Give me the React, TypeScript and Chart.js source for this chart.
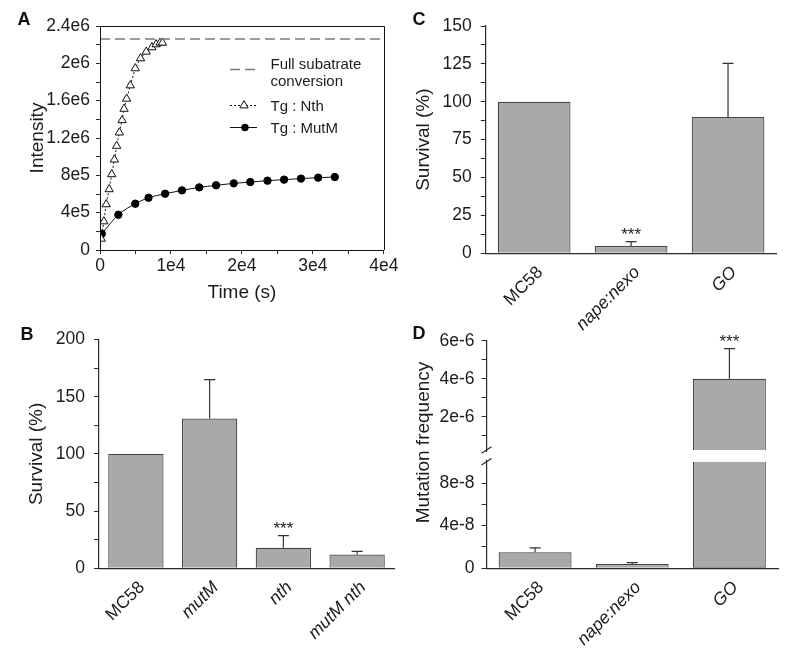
import React, { useEffect, useRef } from 'react';
import { Chart, registerables } from 'chart.js';

Chart.register(...registerables);

const FONT = "'Liberation Sans', Arial, Helvetica, sans-serif";
const TEXT = '#1c1c1c';
const AXIS = '#2a2a2a';
const BAR_FILL = '#a9a9a9';
const BAR_EDGE = '#444444';
const ERR = '#333333';

// ---------- Panel A: kinetics ----------
const NTH_TIME = [170, 540, 870, 1290, 1650, 2030, 2350, 2730, 3110, 3390, 3750, 4270, 4970, 5710, 6510, 7310, 7910, 8470, 8800];
const NTH_INTENSITY = [1.2e5, 3.06e5, 4.89e5, 6.5e5, 8.11e5, 9.68e5, 1.115e6, 1.258e6, 1.39e6, 1.512e6, 1.62e6, 1.763e6, 1.946e6, 2.053e6, 2.124e6, 2.171e6, 2.203e6, 2.221e6, 2.221e6];
const MUTM_TIME = [250, 2590, 4970, 6840, 9170, 11550, 13980, 16360, 18840, 21170, 23600, 25940, 28320, 30740, 33080];
const MUTM_INTENSITY = [1.74e5, 3.78e5, 4.96e5, 5.6e5, 6.03e5, 6.39e5, 6.71e5, 6.93e5, 7.14e5, 7.28e5, 7.43e5, 7.54e5, 7.65e5, 7.75e5, 7.82e5];
const FULL_CONVERSION = 2.26e6;
const FULL_LABEL = ['Full subatrate', 'conversion'];
const NTH_LABEL = 'Tg : Nth';
const MUTM_LABEL = 'Tg : MutM';
const A_X_MIN = 0;
const A_X_MAX = 40000;
const A_X_STEP = 5000;
const A_X_MAJOR = 10000;
const A_Y_MIN = 0;
const A_Y_MAX = 2.4e6;
const A_Y_STEP = 2e5;
const A_Y_MAJOR = 4e5;

// ---------- Panel B ----------
const B_STRAINS = ['MC58', 'mutM', 'nth', 'mutM nth'];
const B_ITALIC = [false, true, true, true];
const B_SURVIVAL = [100, 131, 18, 12];
const B_ERROR = [0, 34, 10.5, 2.8];
const B_STARS = ['', '', '***', ''];
const B_Y_MAX = 200;
const B_Y_STEP = 25;
const B_Y_MAJOR = 50;

// ---------- Panel C ----------
const C_STRAINS = ['MC58', 'nape:nexo', 'GO'];
const C_ITALIC = [false, true, true];
const C_SURVIVAL = [100, 4.8, 90];
const C_ERROR = [0, 2.9, 35.4];
const C_STARS = ['', '***', ''];
const C_Y_MAX = 150;
const C_Y_STEP = 12.5;
const C_Y_MAJOR = 25;

// ---------- Panel D ----------
const D_STRAINS = ['MC58', 'nape:nexo', 'GO'];
const D_ITALIC = [false, true, true];
const D_MUTATION = [1.5e-8, 4.0e-9, 4.0e-6];
const D_ERROR = [4.1e-9, 1.3e-9, 1.58e-6];
const D_STARS = ['', '', '***'];
const D_LOW_MAX = 1e-7;
const D_LOW_STEP = 2e-8;
const D_LOW_MAJOR = 4e-8;
const D_HIGH_MIN = 2.5e-7;
const D_HIGH_MAX = 6e-6;
const D_HIGH_STEP = 1e-6;
const D_HIGH_MAJOR = 2e-6;

const sci = (v: number) => {
  if (Math.abs(v) < 1e-30) return '0';
  return Number(v.toPrecision(8)).toExponential().replace('+', '');
};
const isMajor = (v: number, major: number) => Math.abs(v / major - Math.round(v / major)) < 1e-6;
const plain = (v: number) => String(Math.round(v * 1000) / 1000);

function letterPlugin(letter: string, x: number, y: number) {
  return {
    id: 'panelLetter',
    afterDraw(chart: any) {
      const { ctx } = chart;
      ctx.save();
      ctx.font = `bold 18px ${FONT}`;
      ctx.fillStyle = '#111';
      ctx.textAlign = 'center';
      ctx.textBaseline = 'alphabetic';
      ctx.fillText(letter, x, y);
      ctx.restore();
    },
  };
}

function errorBarPlugin(values: number[], errors: number[], stars: string[], axisIds: string[]) {
  return {
    id: 'errorBars',
    afterDatasetsDraw(chart: any) {
      const { ctx } = chart;
      const xs = chart.scales.x;
      ctx.save();
      values.forEach((v, i) => {
        const ys = chart.scales[axisIds[i]];
        const cx = xs.getPixelForValue(i);
        const base = ys.getPixelForValue(v);
        const top = ys.getPixelForValue(v + errors[i]);
        if (errors[i] > 0) {
          ctx.strokeStyle = ERR;
          ctx.lineWidth = 1.2;
          ctx.setLineDash([]);
          ctx.beginPath();
          ctx.moveTo(cx, base);
          ctx.lineTo(cx, top);
          ctx.moveTo(cx - 5.5, top);
          ctx.lineTo(cx + 5.5, top);
          ctx.stroke();
        }
        if (stars[i]) {
          ctx.font = `17px ${FONT}`;
          ctx.fillStyle = TEXT;
          ctx.textAlign = 'center';
          ctx.textBaseline = 'alphabetic';
          ctx.fillText(stars[i], cx, top - 1.3);
        }
      });
      ctx.restore();
    },
  };
}

const framePlugin = {
  id: 'frame',
  afterDraw(chart: any) {
    const { ctx, chartArea } = chart;
    ctx.save();
    ctx.strokeStyle = '#111';
    ctx.lineWidth = 1;
    ctx.setLineDash([]);
    ctx.beginPath();
    ctx.moveTo(chartArea.left, Math.round(chartArea.top) + 0.5);
    ctx.lineTo(Math.round(chartArea.right) + 0.5, Math.round(chartArea.top) + 0.5);
    ctx.lineTo(Math.round(chartArea.right) + 0.5, chartArea.bottom);
    ctx.stroke();
    ctx.restore();
  },
};

const legendPluginA = {
  id: 'legendA',
  afterDraw(chart: any) {
    const { ctx } = chart;
    const [full, nth, mutm] = chart.data.datasets as any[];
    const x0 = 230;
    const x1 = 257;
    const tx = 270.5;
    ctx.save();
    ctx.font = `15px ${FONT}`;
    ctx.fillStyle = TEXT;
    ctx.textAlign = 'left';
    ctx.textBaseline = 'alphabetic';
    // full conversion
    ctx.strokeStyle = full.borderColor;
    ctx.lineWidth = full.borderWidth;
    ctx.setLineDash(full.borderDash);
    ctx.beginPath();
    ctx.moveTo(x0, 69.5);
    ctx.lineTo(x1, 69.5);
    ctx.stroke();
    ctx.fillText(FULL_LABEL[0], tx, 68.5);
    ctx.fillText(FULL_LABEL[1], tx, 86);
    // Nth
    const ny = 105.5;
    ctx.strokeStyle = nth.borderColor;
    ctx.lineWidth = nth.borderWidth;
    ctx.setLineDash(nth.borderDash);
    ctx.beginPath();
    ctx.moveTo(x0, ny);
    ctx.lineTo(x1, ny);
    ctx.stroke();
    ctx.setLineDash([]);
    const r = nth.pointRadius;
    const cx = 244;
    ctx.beginPath();
    let rad = 0;
    ctx.moveTo(cx + Math.sin(rad) * r, ny - Math.cos(rad) * r);
    rad += (2 * Math.PI) / 3;
    ctx.lineTo(cx + Math.sin(rad) * r, ny - Math.cos(rad) * r);
    rad += (2 * Math.PI) / 3;
    ctx.lineTo(cx + Math.sin(rad) * r, ny - Math.cos(rad) * r);
    ctx.closePath();
    ctx.fillStyle = nth.pointBackgroundColor;
    ctx.fill();
    ctx.lineWidth = nth.pointBorderWidth;
    ctx.strokeStyle = nth.pointBorderColor;
    ctx.stroke();
    ctx.fillStyle = TEXT;
    ctx.fillText(nth.label, tx, ny + 5.6);
    // MutM
    const my = 127.5;
    ctx.strokeStyle = mutm.borderColor;
    ctx.lineWidth = mutm.borderWidth;
    ctx.beginPath();
    ctx.moveTo(x0, my);
    ctx.lineTo(x1, my);
    ctx.stroke();
    ctx.beginPath();
    ctx.arc(245, my, mutm.pointRadius, 0, Math.PI * 2);
    ctx.fillStyle = mutm.pointBackgroundColor;
    ctx.fill();
    ctx.fillStyle = TEXT;
    ctx.fillText(mutm.label, tx, my + 5.6);
    ctx.restore();
  },
};

const tickFont = { family: FONT, size: 17.5 };
const titleFont = { family: FONT, size: 19 };

function configA(): any {
  return {
    type: 'line',
    data: {
      datasets: [
        {
          label: FULL_LABEL.join(' '),
          data: [
            { x: A_X_MIN, y: FULL_CONVERSION },
            { x: A_X_MAX, y: FULL_CONVERSION },
          ],
          borderColor: '#7c7c7c',
          borderWidth: 1.6,
          borderDash: [10, 5],
          pointRadius: 0,
        },
        {
          label: NTH_LABEL,
          data: NTH_TIME.map((t, i) => ({ x: t, y: NTH_INTENSITY[i] })),
          borderColor: '#111',
          borderWidth: 1,
          borderDash: [2, 2],
          pointStyle: 'triangle',
          pointRadius: 4.8,
          pointBackgroundColor: '#fff',
          pointBorderColor: '#111',
          pointBorderWidth: 1,
        },
        {
          label: MUTM_LABEL,
          data: MUTM_TIME.map((t, i) => ({ x: t, y: MUTM_INTENSITY[i] })),
          borderColor: '#111',
          borderWidth: 1,
          pointStyle: 'circle',
          pointRadius: 3.7,
          pointBackgroundColor: '#000',
          pointBorderColor: '#000',
          pointBorderWidth: 1,
          cubicInterpolationMode: 'monotone',
        },
      ],
    },
    options: {
      animation: false,
      responsive: false,
      layout: { padding: { left: 0, top: 26, right: 14, bottom: 0 } },
      plugins: { legend: { display: false }, tooltip: { enabled: false } },
      scales: {
        x: {
          type: 'linear',
          min: A_X_MIN,
          max: A_X_MAX,
          afterFit: (s: any) => {
            s.height = 70;
          },
          ticks: {
            stepSize: A_X_STEP,
            autoSkip: false,
            maxRotation: 0,
            minRotation: 0,
            padding: 1.5,
            color: TEXT,
            font: tickFont,
            callback: (v: number) => (isMajor(v, A_X_MAJOR) ? sci(v) : ''),
          },
          grid: { drawOnChartArea: false, tickLength: 4, color: AXIS },
          border: { color: '#111', width: 1, z: 1 },
          title: { display: true, text: 'Time (s)', color: TEXT, font: titleFont, padding: { top: 0, bottom: 16 } },
        },
        y: {
          type: 'linear',
          min: A_Y_MIN,
          max: A_Y_MAX,
          afterFit: (s: any) => {
            s.width = 100;
          },
          ticks: {
            stepSize: A_Y_STEP,
            autoSkip: false,
            padding: 6,
            color: TEXT,
            font: tickFont,
            callback: (v: number) => (isMajor(v, A_Y_MAJOR) ? sci(v) : ''),
          },
          grid: { drawOnChartArea: false, tickLength: 4, color: AXIS },
          border: { color: '#111', width: 1, z: 1 },
          title: { display: true, text: 'Intensity', color: TEXT, font: titleFont, padding: { top: 26.6, bottom: 0 } },
        },
      },
    },
    plugins: [framePlugin, legendPluginA, letterPlugin('A', 24, 24.5)],
  };
}

function categoryX(italic: boolean[], height: number, labelOffset: number, padding: number) {
  return {
    type: 'category',
    offset: true,
    afterFit: (s: any) => {
      s.height = height;
    },
    grid: { display: false, drawTicks: false },
    border: { display: true, color: AXIS, width: 1.2, z: 1 },
    ticks: {
      autoSkip: false,
      minRotation: 45,
      maxRotation: 45,
      padding,
      labelOffset,
      color: TEXT,
      font: (ctx: any) => ({ family: FONT, size: 17.5, style: italic[ctx.index] ? 'italic' : 'normal' }),
    },
  };
}

function barConfig(
  cats: string[],
  italic: boolean[],
  values: number[],
  errors: number[],
  stars: string[],
  yMax: number,
  yStep: number,
  yMajor: number,
  pad: { top: number; right: number },
  yWidth: number,
  xHeight: number,
  titlePad: number,
  letter: [string, number, number]
): any {
  return {
    type: 'bar',
    data: {
      labels: cats,
      datasets: [
        {
          label: 'Survival (%)',
          data: values,
          backgroundColor: BAR_FILL,
          borderColor: BAR_EDGE,
          borderWidth: 1.2,
          barPercentage: 0.75,
          categoryPercentage: 1,
        },
      ],
    },
    options: {
      animation: false,
      responsive: false,
      layout: { padding: { left: 0, top: pad.top, right: pad.right, bottom: 0 } },
      plugins: { legend: { display: false }, tooltip: { enabled: false } },
      scales: {
        x: categoryX(italic, xHeight, 6, 9),
        y: {
          type: 'linear',
          min: 0,
          max: yMax,
          afterFit: (s: any) => {
            s.width = yWidth;
          },
          ticks: {
            stepSize: yStep,
            autoSkip: false,
            padding: 9,
            color: TEXT,
            font: tickFont,
            callback: (v: number) => (isMajor(v, yMajor) ? plain(v) : ''),
          },
          grid: { drawOnChartArea: false, tickLength: 5, color: AXIS },
          border: { color: AXIS, width: 1.2, z: 1 },
          title: { display: true, text: 'Survival (%)', color: TEXT, font: titleFont, padding: { top: titlePad, bottom: 0 } },
        },
      },
    },
    plugins: [errorBarPlugin(values, errors, stars, values.map(() => 'y')), letterPlugin(letter[0], letter[1], letter[2])],
  };
}

function configB(): any {
  return barConfig(B_STRAINS, B_ITALIC, B_SURVIVAL, B_ERROR, B_STARS, B_Y_MAX, B_Y_STEP, B_Y_MAJOR, { top: 19.3, right: 6 }, 99, 96.7, 25.3, ['B', 27, 19.5]);
}

function configC(): any {
  return barConfig(C_STRAINS, C_ITALIC, C_SURVIVAL, C_ERROR, C_STARS, C_Y_MAX, C_Y_STEP, C_Y_MAJOR, { top: 26, right: 23.5 }, 85.7, 91.7, 12.6, ['C', 19, 25]);
}

const breakPluginD = {
  id: 'axisBreak',
  afterDraw(chart: any) {
    const { ctx } = chart;
    const hi = chart.scales.yHigh;
    const lo = chart.scales.yLow;
    const ax = chart.chartArea.left;
    ctx.save();
    ctx.strokeStyle = AXIS;
    ctx.lineWidth = 1.2;
    ctx.beginPath();
    ctx.moveTo(ax, hi.bottom);
    ctx.lineTo(ax, hi.bottom + 2);
    ctx.moveTo(ax, lo.top - 2);
    ctx.lineTo(ax, lo.top);
    ctx.moveTo(ax - 5, hi.bottom + 3.3);
    ctx.lineTo(ax + 5, hi.bottom - 3.3);
    ctx.moveTo(ax - 5, lo.top + 3.3);
    ctx.lineTo(ax + 5, lo.top - 3.3);
    ctx.stroke();
    // axis title
    ctx.translate(24, 122.5);
    ctx.rotate(-Math.PI / 2);
    ctx.font = `19px ${FONT}`;
    ctx.fillStyle = TEXT;
    ctx.textAlign = 'center';
    ctx.textBaseline = 'middle';
    ctx.fillText('Mutation frequency', 0, 0);
    ctx.restore();
  },
};

function configD(): any {
  const axisIds = D_MUTATION.map((v) => (v > D_LOW_MAX ? 'yHigh' : 'yLow'));
  const yCommon = (width: number) => ({
    type: 'linear',
    position: 'left',
    stack: 'd',
    afterFit: (s: any) => {
      s.width = width;
    },
  });
  return {
    type: 'bar',
    data: {
      labels: D_STRAINS,
      datasets: [
        {
          label: 'Mutation frequency (low)',
          data: D_MUTATION.map((v) => Math.min(v, D_LOW_MAX)),
          yAxisID: 'yLow',
          grouped: false,
          backgroundColor: BAR_FILL,
          borderColor: BAR_EDGE,
          borderWidth: 1.2,
          borderSkipped: (ctx: any) => (D_MUTATION[ctx.dataIndex] > D_LOW_MAX ? 'top' : 'start'),
          barPercentage: 0.75,
          categoryPercentage: 1,
        },
        {
          label: 'Mutation frequency (high)',
          data: D_MUTATION.map((v) => (v > D_HIGH_MIN ? [D_HIGH_MIN, v] : null)),
          yAxisID: 'yHigh',
          grouped: false,
          backgroundColor: BAR_FILL,
          borderColor: BAR_EDGE,
          borderWidth: 1.2,
          borderSkipped: 'bottom',
          barPercentage: 0.75,
          categoryPercentage: 1,
        },
      ],
    },
    options: {
      animation: false,
      responsive: false,
      layout: { padding: { left: 0, top: 20.7, right: 22, bottom: 0 } },
      plugins: { legend: { display: false }, tooltip: { enabled: false } },
      scales: {
        x: categoryX(D_ITALIC, 96.7, 6, 9),
        yLow: {
          ...yCommon(86.5),
          weight: 1,
          stackWeight: 106.6,
          min: 0,
          max: D_LOW_MAX,
          ticks: {
            stepSize: D_LOW_STEP,
            autoSkip: false,
            padding: 7,
            color: TEXT,
            font: tickFont,
            callback: (v: number) => (isMajor(v, D_LOW_MAJOR) && v < D_LOW_MAX * 0.999 ? sci(v) : ''),
          },
          grid: {
            drawOnChartArea: false,
            tickLength: 5,
            color: (ctx: any) => (ctx.tick && ctx.tick.value >= D_LOW_MAX * 0.999 ? 'rgba(0,0,0,0)' : AXIS),
          },
          border: { color: AXIS, width: 1.2, z: 1 },
        },
        yGap: {
          ...yCommon(0),
          weight: 2,
          stackWeight: 11.7,
          min: 0,
          max: 1,
          ticks: { display: false },
          grid: { display: false, drawTicks: false },
          border: { display: false },
        },
        yHigh: {
          ...yCommon(86.5),
          weight: 3,
          stackWeight: 109.3,
          min: D_HIGH_MIN,
          max: D_HIGH_MAX,
          ticks: {
            stepSize: D_HIGH_STEP,
            includeBounds: false,
            autoSkip: false,
            padding: 7,
            color: TEXT,
            font: tickFont,
            callback: (v: number) => (isMajor(v, D_HIGH_MAJOR) ? sci(v) : ''),
          },
          grid: { drawOnChartArea: false, tickLength: 5, color: AXIS },
          border: { color: AXIS, width: 1.2, z: 1 },
        },
      },
    },
    plugins: [errorBarPlugin(D_MUTATION, D_ERROR, D_STARS, axisIds), breakPluginD, letterPlugin('D', 19, 18.5)],
  };
}

function Panel({ left, top, width, height, build }: { left: number; top: number; width: number; height: number; build: () => any }) {
  const ref = useRef<HTMLCanvasElement>(null);
  useEffect(() => {
    const chart = new Chart(ref.current as HTMLCanvasElement, build());
    return () => chart.destroy();
  }, []);
  return (
    <canvas
      ref={ref}
      width={width}
      height={height}
      style={{ position: 'absolute', left, top, width, height }}
    />
  );
}

export default function App() {
  return (
    <div style={{ position: 'absolute', left: 0, top: 0, width: 800, height: 665, background: '#fff', overflow: 'hidden' }}>
      <Panel left={0} top={0} width={400} height={320} build={configA} />
      <Panel left={400} top={0} width={400} height={345} build={configC} />
      <Panel left={0} top={320} width={400} height={345} build={configB} />
      <Panel left={400} top={320} width={400} height={345} build={configD} />
    </div>
  );
}
